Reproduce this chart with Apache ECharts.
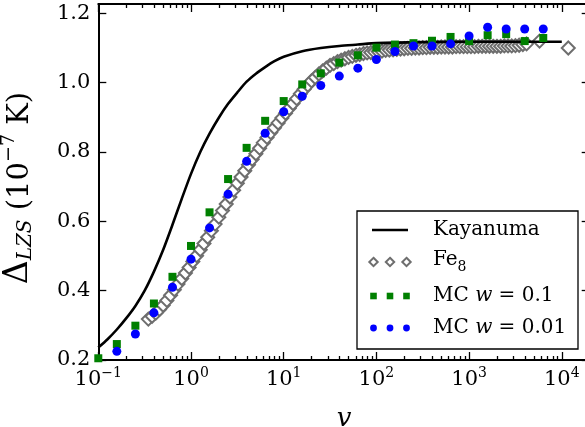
<!DOCTYPE html>
<html>
<head>
<meta charset="utf-8">
<script src="https://cdn.jsdelivr.net/npm/echarts@6/dist/echarts.min.js"></script>
<style>
  html, body { margin: 0; padding: 0; background: #fff; }
  #chart { width: 585px; height: 427px; }
</style>
</head>
<body>
<div id="chart"></div>
<script>
// The sweep-rate axis is a linear value axis in log10(v) units.
const xTickExponents = [-1, 0, 1, 2, 3, 4];
const yTickValues = [0.2, 0.4, 0.6, 0.8, 1.0, 1.2];

// Kayanuma theory curve
const kayanumaLogV = [-1.0, -0.9, -0.8, -0.7, -0.6, -0.5, -0.4, -0.3, -0.2, -0.1,
  0.0, 0.1, 0.2, 0.3, 0.4, 0.5, 0.6, 0.7, 0.8, 0.9, 1.0, 1.2, 1.4, 1.6, 1.8, 2.0,
  2.5, 3.0, 3.5, 4.0];
const kayanumaDelta = [0.236, 0.260, 0.288, 0.320, 0.356, 0.400, 0.455, 0.518, 0.590, 0.665,
  0.737, 0.800, 0.853, 0.899, 0.939, 0.972, 1.003, 1.026, 1.045, 1.062, 1.075, 1.091, 1.100,
  1.106, 1.110, 1.114, 1.117, 1.118, 1.118, 1.118];

// Fe8 measurements
const fe8LogV = [-0.46, -0.42, -0.38, -0.34, -0.30, -0.26, -0.22, -0.18, -0.14, -0.10,
  -0.06, -0.02, 0.02, 0.06, 0.10, 0.14, 0.18, 0.22, 0.26, 0.30,
  0.34, 0.38, 0.42, 0.46, 0.50, 0.54, 0.58, 0.62, 0.66, 0.70,
  0.74, 0.78, 0.82, 0.86, 0.90, 0.94, 0.98, 1.02, 1.06, 1.10,
  1.14, 1.18, 1.22, 1.26, 1.30, 1.34, 1.38, 1.42, 1.46, 1.50,
  1.54, 1.58, 1.62, 1.66, 1.70, 1.74, 1.78, 1.82, 1.86, 1.90,
  1.94, 1.98, 2.02, 2.06, 2.10, 2.14, 2.18, 2.22, 2.26, 2.30,
  2.34, 2.38, 2.42, 2.46, 2.50, 2.54, 2.58, 2.62, 2.66, 2.70,
  2.74, 2.78, 2.82, 2.86, 2.90, 2.94, 2.98, 3.02, 3.06, 3.10,
  3.14, 3.18, 3.22, 3.26, 3.30, 3.34, 3.38, 3.42, 3.46, 3.50,
  3.54, 3.58, 3.62, 3.76, 4.07];
const fe8Delta = [0.318, 0.326, 0.335, 0.346, 0.358, 0.372, 0.387, 0.403, 0.419, 0.435,
  0.451, 0.467, 0.484, 0.501, 0.518, 0.536, 0.554, 0.573, 0.592, 0.612,
  0.631, 0.650, 0.670, 0.690, 0.710, 0.728, 0.746, 0.763, 0.779, 0.795,
  0.811, 0.827, 0.842, 0.856, 0.870, 0.884, 0.898, 0.912, 0.926, 0.940,
  0.954, 0.968, 0.981, 0.993, 1.005, 1.015, 1.025, 1.034, 1.042, 1.050,
  1.055, 1.061, 1.065, 1.069, 1.073, 1.076, 1.079, 1.081, 1.084, 1.086,
  1.087, 1.089, 1.090, 1.091, 1.093, 1.094, 1.095, 1.096, 1.097, 1.098,
  1.099, 1.099, 1.100, 1.100, 1.101, 1.101, 1.102, 1.102, 1.102, 1.103,
  1.103, 1.103, 1.103, 1.104, 1.104, 1.104, 1.104, 1.104, 1.104, 1.105,
  1.105, 1.105, 1.105, 1.105, 1.105, 1.105, 1.106, 1.106, 1.106, 1.107,
  1.108, 1.110, 1.112, 1.120, 1.100];

// Monte Carlo results
const mcLogV = [-1.0, -0.8, -0.6, -0.4, -0.2, 0.0, 0.2, 0.4, 0.6, 0.8,
  1.0, 1.2, 1.4, 1.6, 1.8, 2.0, 2.2, 2.4, 2.6, 2.8, 3.0, 3.2, 3.4, 3.6, 3.8];
const mcW01Delta = [0.205, 0.246, 0.299, 0.363, 0.440, 0.529, 0.626, 0.722, 0.812, 0.890,
  0.947, 0.995, 1.027, 1.058, 1.079, 1.101, 1.110, 1.114, 1.121, 1.132, 1.120, 1.137, 1.140,
  1.120, 1.129];
const mcW001Delta = [null, 0.225, 0.275, 0.336, 0.410, 0.491, 0.581, 0.678, 0.773, 0.854,
  0.916, 0.961, 0.992, 1.019, 1.042, 1.067, 1.090, 1.106, 1.106, 1.112, 1.135, 1.160, 1.155,
  1.155, 1.155];

const X_MIN = -1;
const X_MAX = Math.log10(2e4);
const Y_MIN = 0.2;
const Y_MAX = 1.227;

const SERIF = 'DejaVu Serif';

function pairs(xs, ys) {
  const out = [];
  xs.forEach((x, i) => { if (ys[i] != null) out.push([x, ys[i]]); });
  return out;
}

// minor decade ticks at 2..9 x 10^n
const minorTicks = [];
for (let n = -1; n <= 4; n++) {
  for (let k = 2; k <= 9; k++) {
    const e = Math.log10(k) + n;
    if (e < X_MAX - 1e-6) minorTicks.push(e);
  }
}

const axisLineStyle = { color: '#000', width: 2 };
const tickLineStyle = { color: '#000', width: 1.3 };

function xAxisDef(position, major, showLine) {
  return {
    type: 'value', min: X_MIN, max: X_MAX, position: position,
    axisLine: { show: showLine, onZero: false, lineStyle: axisLineStyle },
    axisTick: { show: true, inside: true, length: major ? 8 : 4,
      customValues: major ? xTickExponents : minorTicks, lineStyle: tickLineStyle },
    axisLabel: { show: false },
    splitLine: { show: false }
  };
}

const bottomMajor = xAxisDef('bottom', true, true);
bottomMajor.axisLabel = {
  show: true,
  customValues: xTickExponents,
  margin: 6,
  formatter: function (e) {
    const ex = Math.round(e);
    return '{b|10}{s|' + (ex < 0 ? '\u2212' + (-ex) : ex) + '}';
  },
  rich: {
    b: { fontFamily: SERIF, fontSize: 21, color: '#000', lineHeight: 24, verticalAlign: 'bottom' },
    s: { fontFamily: SERIF, fontSize: 14, color: '#000', lineHeight: 14, verticalAlign: 'top' }
  }
};
bottomMajor.name = 'v';
bottomMajor.nameLocation = 'middle';
bottomMajor.nameGap = 46;
bottomMajor.nameTextStyle = { fontFamily: SERIF, fontStyle: 'italic', fontSize: 26, color: '#000' };

const option = {
  animation: false,
  backgroundColor: '#fff',
  grid: { left: 98.3, width: 491.4, top: 4, height: 356, containLabel: false, outerBoundsMode: 'none' },
  xAxis: [
    bottomMajor,
    xAxisDef('bottom', false, false),
    xAxisDef('top', true, true),
    xAxisDef('top', false, false)
  ],
  yAxis: [
    {
      type: 'value', min: Y_MIN, max: Y_MAX, position: 'left',
      axisLine: { show: true, onZero: false, lineStyle: axisLineStyle },
      axisTick: { show: true, inside: true, length: 8, customValues: yTickValues, lineStyle: tickLineStyle },
      axisLabel: {
        customValues: yTickValues, margin: 8,
        formatter: v => v.toFixed(1),
        fontFamily: SERIF, fontSize: 21, color: '#000'
      },
      splitLine: { show: false },
      name: '{d|\u0394}{l|LZS}{r| (10}{s|\u22127}{r| K)}',
      nameLocation: 'middle',
      nameRotate: 90,
      nameGap: 63,
      nameTextStyle: {
        color: '#000',
        padding: [0, 12, 0, 0],
        rich: {
          d: { fontFamily: SERIF, fontSize: 33, lineHeight: 36, color: '#000', verticalAlign: 'bottom' },
          l: { fontFamily: SERIF, fontStyle: 'italic', fontSize: 20, lineHeight: 20, color: '#000', verticalAlign: 'bottom' },
          r: { fontFamily: SERIF, fontSize: 29, lineHeight: 36, color: '#000', verticalAlign: 'bottom' },
          s: { fontFamily: SERIF, fontSize: 19, lineHeight: 20, color: '#000', verticalAlign: 'top' }
        }
      }
    },
    {
      type: 'value', min: Y_MIN, max: Y_MAX, position: 'right',
      axisLine: { show: true, onZero: false, lineStyle: axisLineStyle },
      axisTick: { show: true, inside: true, length: 8, customValues: yTickValues, lineStyle: tickLineStyle },
      axisLabel: { show: false },
      splitLine: { show: false }
    }
  ],
  series: [
    {
      name: 'Fe8', type: 'scatter', z: 2,
      data: pairs(fe8LogV, fe8Delta),
      symbol: 'diamond', symbolSize: 13,
      itemStyle: { color: '#ffffff', borderColor: '#6e6e6e', borderWidth: 2, opacity: 1 }
    },
    {
      name: 'Kayanuma', type: 'line', z: 3,
      data: pairs(kayanumaLogV, kayanumaDelta),
      smooth: 0.25, showSymbol: false, symbol: 'none',
      lineStyle: { color: '#000', width: 2.6 }
    },
    {
      name: 'MC w = 0.1', type: 'scatter', z: 4,
      data: pairs(mcLogV, mcW01Delta),
      symbol: 'rect', symbolSize: 8,
      itemStyle: { color: '#008000', opacity: 1 }
    },
    {
      name: 'MC w = 0.01', type: 'scatter', z: 5,
      data: pairs(mcLogV, mcW001Delta),
      symbol: 'circle', symbolSize: 9,
      itemStyle: { color: '#0000ff', opacity: 1 }
    }
  ],
  graphic: buildLegend()
};

function buildLegend() {
  const g = [];
  const box = { x: 357, y: 211, w: 221, h: 138 };
  const rowY = [230, 262, 296, 328];
  const iconX = [373.5, 390, 406.5];
  const textX = 433;
  const txt = { fontFamily: SERIF, fontSize: 20, fill: '#000', verticalAlign: 'middle' };
  g.push({ type: 'rect', z: 100, shape: { x: box.x, y: box.y, width: box.w, height: box.h },
    style: { fill: '#fff', stroke: '#000', lineWidth: 1.3 } });
  // Kayanuma
  g.push({ type: 'line', z: 101, shape: { x1: 372, y1: rowY[0], x2: 408, y2: rowY[0] },
    style: { stroke: '#000', lineWidth: 2.6 } });
  g.push({ type: 'text', z: 101, x: textX, y: rowY[0], style: Object.assign({ text: 'Kayanuma' }, txt) });
  // Fe8
  iconX.forEach(cx => {
    const r = 4.2, cy = rowY[1];
    g.push({ type: 'polygon', z: 101,
      shape: { points: [[cx, cy - r], [cx + r, cy], [cx, cy + r], [cx - r, cy]] },
      style: { fill: '#fff', stroke: '#6e6e6e', lineWidth: 2 } });
  });
  g.push({ type: 'text', z: 101, x: textX, y: rowY[1], style: {
    text: '{m|Fe}{b|8}', verticalAlign: 'middle',
    rich: {
      m: { fontFamily: SERIF, fontSize: 20, fill: '#000', lineHeight: 24, verticalAlign: 'top' },
      b: { fontFamily: SERIF, fontSize: 14, fill: '#000', lineHeight: 14, verticalAlign: 'bottom' }
    } } });
  // MC w = 0.1
  iconX.forEach(cx => {
    g.push({ type: 'rect', z: 101, shape: { x: cx - 3.3, y: rowY[2] - 3.3, width: 6.6, height: 6.6 },
      style: { fill: '#008000' } });
  });
  // MC w = 0.01
  iconX.forEach(cx => {
    g.push({ type: 'circle', z: 101, shape: { cx: cx, cy: rowY[3], r: 3.4 },
      style: { fill: '#0000ff' } });
  });
  const mcRich = {
    r: { fontFamily: SERIF, fontSize: 20, fill: '#000' },
    i: { fontFamily: SERIF, fontStyle: 'italic', fontSize: 20, fill: '#000' }
  };
  g.push({ type: 'text', z: 101, x: textX, y: rowY[2], style: {
    text: '{r|MC }{i|w}{r| = 0.1}', verticalAlign: 'middle', rich: mcRich } });
  g.push({ type: 'text', z: 101, x: textX, y: rowY[3], style: {
    text: '{r|MC }{i|w}{r| = 0.01}', verticalAlign: 'middle', rich: mcRich } });
  return g;
}

const chart = echarts.init(document.getElementById('chart'), null, { renderer: 'canvas' });
chart.setOption(option);
</script>
</body>
</html>
